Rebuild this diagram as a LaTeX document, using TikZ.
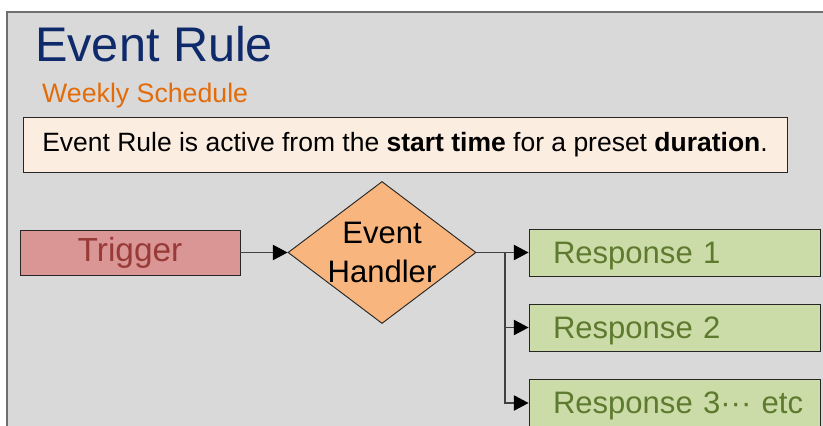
\documentclass[tikz,border=0pt]{standalone}
\usepackage{fontspec}
\setmainfont{Liberation Sans}
\usepackage{tikz}
\usetikzlibrary{arrows.meta,shapes.geometric,positioning}
\definecolor{panel}{HTML}{D9D9D9}
\definecolor{panelline}{HTML}{6F6F6F}
\definecolor{boxline}{HTML}{262626}
\definecolor{wire}{HTML}{404040}
\definecolor{titleblue}{HTML}{0E2A6B}
\definecolor{schedorange}{HTML}{E36C0A}
\definecolor{notefill}{HTML}{FCEDE1}
\definecolor{trigfill}{HTML}{D99694}
\definecolor{trigtext}{HTML}{983A37}
\definecolor{handfill}{HTML}{F8B67E}
\definecolor{respfill}{HTML}{CCDCA9}
\definecolor{resptext}{HTML}{5E7A2E}
\tikzset{%
  arrow/.style={draw=wire,line width=1pt,-{Triangle[length=0.44cm,width=0.46cm,color=black]}},
  box/.style={rectangle,draw=boxline,line width=0.8pt},
  big/.style={font=\fontsize{26.5}{33}\selectfont},
  plain/.style={inner sep=0pt,anchor=base west},
}

\begin{document}
\begin{tikzpicture}[x=0.03cm,y=-0.03cm,
    resp/.style={box,fill=respfill,text=resptext,big,minimum height=1.41cm,
      inner xsep=0pt,inner ysep=0pt,text width=8.73cm,text depth=0pt,align=left,
      execute at begin node={\hspace*{0.72cm}}}]
    \useasboundingbox (0,0) rectangle (823,425);
    \clip (0,0) rectangle (823,425);

    % grey slide panel
    \draw[draw=panelline,line width=1.5pt,fill=panel] (7,12) rectangle (840,440);

    \node[plain,text=titleblue,font=\fontsize{41.5}{50}\selectfont] (title) at (35,62) {Event Rule};
    \node[plain,text=schedorange,font=\fontsize{22.8}{27}\selectfont] (sched) at (42,102) {Weekly Schedule};

    \node[box,fill=notefill,minimum width=22.92cm,minimum height=1.65cm,
      font=\fontsize{22.6}{27}\selectfont] (note) at (405,144.5)
      {Event Rule is active from the \textbf{start time} for a preset \textbf{duration}.};

    \node[box,fill=trigfill,text=trigtext,font=\fontsize{28.5}{34}\selectfont,
      minimum width=6.6cm,minimum height=1.35cm] (trigger) at (130,252.5) {Trigger};
    \node[diamond,draw=boxline,line width=0.8pt,fill=handfill,inner sep=0pt,
      minimum width=5.64cm,minimum height=4.26cm,
      label={[big,align=center]center:Event\\Handler}] (hand) at (382,252.5) {};

    \foreach \i/\y/\txt in {1/252.5/Response 1,2/327.5/Response 2,3/403/Response 3··· etc}
      \node[resp] (resp\i) at (674.5,\y) {\txt};

    \draw[arrow] (trigger.east) -- (hand.west);
    \coordinate (fork) at (505,252.5);
    \draw[wire,line width=1pt] (hand.east) -- (fork);
    \foreach \i in {1,2,3}
      \draw[arrow] (fork) |- (resp\i.west);
\end{tikzpicture}
\end{document}
